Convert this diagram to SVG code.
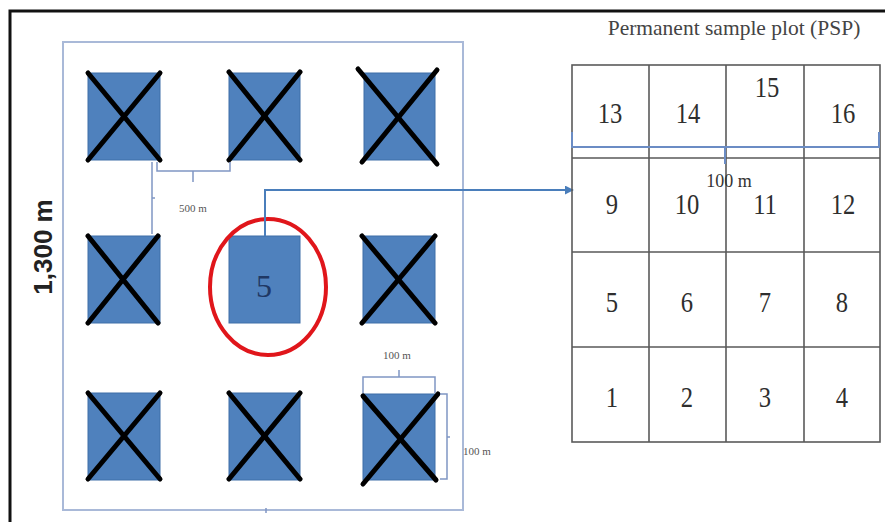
<svg xmlns="http://www.w3.org/2000/svg" width="885" height="522" viewBox="0 0 885 522">
<defs>
<style>
.sq{fill:#4f81bd;stroke:#3f6ea8;stroke-width:1}
.x{stroke:#000;stroke-width:5;stroke-linecap:round}
.dim{fill:none;stroke:#8096c4;stroke-width:1.5}
.dt{font-family:"Liberation Serif",serif;font-size:11px;fill:#555}
.g{fill:none;stroke:#5a5a5a;stroke-width:1.6}
.num{font-family:"Liberation Serif",serif;font-size:30px;fill:#2e2e2e;text-anchor:middle}
.conn{fill:none;stroke:#4a7ebb;stroke-width:2}
</style>
<marker id="ah" viewBox="0 0 10 10" refX="9" refY="5" markerWidth="4.5" markerHeight="4.5" orient="auto" markerUnits="strokeWidth">
<path d="M0,0 L10,5 L0,10 z" fill="#4a7ebb"/>
</marker>
</defs>
<rect x="0" y="0" width="885" height="522" fill="#fff"/>
<g id="frame">
<path d="M10,522 V11 H885" fill="none" stroke="#111" stroke-width="3"/>
</g>
<g id="area">
<rect x="63" y="42" width="400" height="468" fill="none" stroke="#a9b9d8" stroke-width="2"/>
<line x1="266" y1="508" x2="266" y2="513" stroke="#8096c4" stroke-width="1.5"/>
</g>
<g id="label-1300">
<text transform="translate(52,247) rotate(-90)" text-anchor="middle" font-family="Liberation Sans, Arial, sans-serif" font-weight="bold" font-size="26" fill="#222">1,300 m</text>
</g>
<g id="plot-1"><rect class="sq" x="88" y="73" width="72" height="87"/><line class="x" x1="88" y1="73" x2="160" y2="160"/><line class="x" x1="160" y1="73" x2="88" y2="160"/></g>
<g id="plot-2"><rect class="sq" x="229" y="73" width="71" height="87"/><line class="x" x1="229" y1="72" x2="300" y2="160"/><line class="x" x1="300" y1="72" x2="229" y2="160"/></g>
<g id="plot-3"><rect class="sq" x="364" y="73" width="71" height="87"/><line class="x" x1="358" y1="69" x2="437" y2="164"/><line class="x" x1="437" y1="70" x2="362" y2="162"/></g>
<g id="plot-4"><rect class="sq" x="88" y="236" width="72" height="87"/><line class="x" x1="88" y1="236" x2="158" y2="323"/><line class="x" x1="158" y1="236" x2="88" y2="323"/></g>
<g id="plot-5"><rect class="sq" x="229" y="236" width="71" height="87"/><text x="264" y="297" font-family="Liberation Serif, serif" font-size="32" fill="#1f3864" text-anchor="middle">5</text></g>
<g id="plot-6"><rect class="sq" x="363" y="236" width="72" height="87"/><line class="x" x1="362" y1="236" x2="435" y2="323"/><line class="x" x1="435" y1="236" x2="362" y2="323"/></g>
<g id="plot-7"><rect class="sq" x="88" y="393" width="72" height="87"/><line class="x" x1="88" y1="393" x2="160" y2="479"/><line class="x" x1="160" y1="393" x2="88" y2="479"/></g>
<g id="plot-8"><rect class="sq" x="229" y="393" width="71" height="87"/><line class="x" x1="229" y1="393" x2="300" y2="479"/><line class="x" x1="300" y1="393" x2="229" y2="479"/></g>
<g id="plot-9"><rect class="sq" x="363" y="394" width="72" height="86"/><line class="x" x1="363" y1="396" x2="436" y2="480"/><line class="x" x1="438" y1="394" x2="363" y2="484"/></g>
<g id="highlight">
<ellipse cx="268" cy="287" rx="58" ry="68" fill="none" stroke="#e0161b" stroke-width="4"/>
</g>
<g id="dimensions">
<path class="dim" d="M157,162 V171 H230 V162 M193,171 V182"/>
<path class="dim" d="M152,162 V234 M152,198 H155"/>
<text class="dt" x="193" y="212" text-anchor="middle">500 m</text>
<path class="dim" d="M363,393 V377 H435 V393 M399,377 V370"/>
<text class="dt" x="397" y="359" text-anchor="middle">100 m</text>
<path class="dim" d="M440,394 H447 V479 H440 M447,437 H450"/>
<text class="dt" x="463" y="455">100 m</text>
</g>
<g id="connectors">
<path class="conn" d="M265,236 V190 H573" marker-end="url(#ah)"/>
</g>
<g id="psp">
<text x="734" y="35" font-family="Liberation Serif, serif" font-size="21.5" fill="#444" text-anchor="middle">Permanent sample plot (PSP)</text>
<rect class="g" x="572" y="65" width="308" height="377"/>
<path class="g" d="M649,65 V442 M726,65 V442 M804,65 V442 M572,158 H880 M572,252 H880 M572,347 H880"/>
<path d="M572,132 V147 H879 V132 M725,147 V164" fill="none" stroke="#6b8cc4" stroke-width="2"/>
<text x="729" y="187" font-family="Liberation Serif, serif" font-size="18" fill="#333" text-anchor="middle">100 m</text>
<text class="num" transform="translate(610,123) scale(0.82,1)">13</text>
<text class="num" transform="translate(688,123) scale(0.82,1)">14</text>
<text class="num" transform="translate(767,97) scale(0.82,1)">15</text>
<text class="num" transform="translate(843,123) scale(0.82,1)">16</text>
<text class="num" transform="translate(612,214) scale(0.82,1)">9</text>
<text class="num" transform="translate(687,214) scale(0.82,1)">10</text>
<text class="num" transform="translate(765,214) scale(0.82,1)">11</text>
<text class="num" transform="translate(843,214) scale(0.82,1)">12</text>
<text class="num" transform="translate(612,312) scale(0.82,1)">5</text>
<text class="num" transform="translate(687,312) scale(0.82,1)">6</text>
<text class="num" transform="translate(765,312) scale(0.82,1)">7</text>
<text class="num" transform="translate(842,312) scale(0.82,1)">8</text>
<text class="num" transform="translate(612,407) scale(0.82,1)">1</text>
<text class="num" transform="translate(687,407) scale(0.82,1)">2</text>
<text class="num" transform="translate(765,407) scale(0.82,1)">3</text>
<text class="num" transform="translate(842,407) scale(0.82,1)">4</text>
</g>
</svg>
